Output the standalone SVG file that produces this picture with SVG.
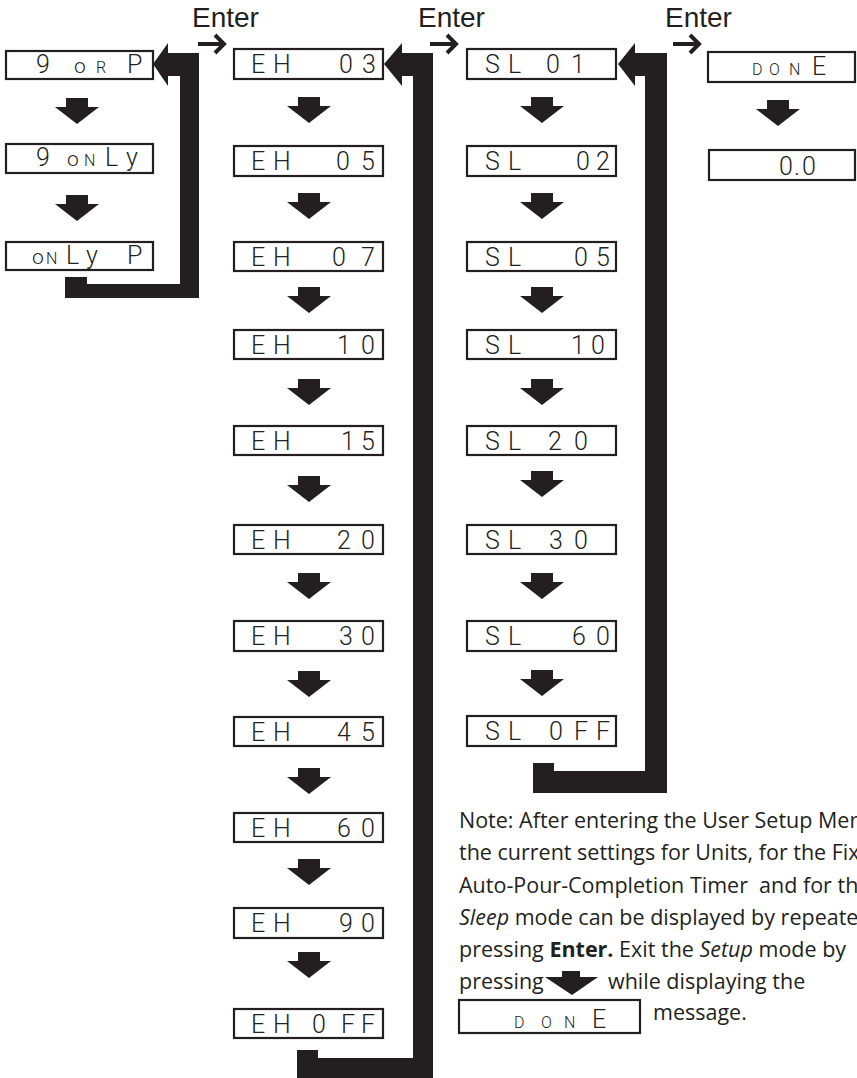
<svg xmlns="http://www.w3.org/2000/svg" xmlns:xlink="http://www.w3.org/1999/xlink" width="857" height="1078" viewBox="0 0 857 1078">
<style>
.box{fill:#fff;stroke:#231f20;stroke-width:2.2}
.lcd{font-family:"Roboto","Liberation Sans",sans-serif;font-weight:300;font-size:25px;fill:#231f20}
.s{font-size:16px}
.o{font-size:21px}
.lbl{font-family:"Liberation Sans",Arial,sans-serif;font-size:28px;fill:#231f20}
.note{font-family:"Open Sans","Noto Sans",sans-serif;font-size:21.5px;fill:#231f20}
.con{fill:#231f20}
.ent{fill:none;stroke:#231f20;stroke-width:4;stroke-linejoin:miter}
</style>
<defs>
<path id="dn" d="M-11,0 H11 V9 H22 L0,26 L-22,9 H-11 Z" fill="#231f20"/>
</defs>
<rect width="857" height="1078" fill="#fff"/>

<g id="labels">
<text class="lbl" x="192" y="27">Enter</text>
<text class="lbl" x="418" y="27">Enter</text>
<text class="lbl" x="665" y="27">Enter</text>
<path class="ent" d="M198,44 H224 M215,35 L224,44 L215,53"/>
<path class="ent" d="M430,44 H456 M447,35 L456,44 L447,53"/>
<path class="ent" d="M673,44 H699 M690,35 L699,44 L690,53"/>
</g>

<g id="connectors">
<path class="con" d="M153,64 L168,43 L168,53 L199,53 L199,298 L65,298 L65,277 L87,277 L87,284 L180,284 L180,76 L168,76 L168,86 Z"/>
<path class="con" d="M384,64 L402,43 L402,53 L433,53 L433,1078 L297,1078 L297,1050 L318,1050 L318,1058 L413,1058 L413,76 L402,76 L402,86 Z"/>
<path class="con" d="M618,64 L635,43 L635,53 L667,53 L667,793 L533,793 L533,763 L554,763 L554,771 L645,771 L645,76 L635,76 L635,86 Z"/>
<use xlink:href="#dn" x="77" y="98"/>
<use xlink:href="#dn" x="77" y="195"/>
<use xlink:href="#dn" x="309" y="97"/>
<use xlink:href="#dn" x="309" y="193"/>
<use xlink:href="#dn" x="309" y="287"/>
<use xlink:href="#dn" x="309" y="379"/>
<use xlink:href="#dn" x="309" y="476"/>
<use xlink:href="#dn" x="309" y="573"/>
<use xlink:href="#dn" x="309" y="671"/>
<use xlink:href="#dn" x="309" y="768"/>
<use xlink:href="#dn" x="309" y="859"/>
<use xlink:href="#dn" x="309" y="952"/>
<use xlink:href="#dn" x="542" y="97"/>
<use xlink:href="#dn" x="542" y="193"/>
<use xlink:href="#dn" x="542" y="287"/>
<use xlink:href="#dn" x="542" y="379"/>
<use xlink:href="#dn" x="542" y="471"/>
<use xlink:href="#dn" x="542" y="573"/>
<use xlink:href="#dn" x="542" y="670"/>
<use xlink:href="#dn" x="778" y="100"/>
</g>

<g id="col1-gorp"><rect class="box" x="6" y="51" width="147" height="28"/><text class="lcd" x="36" y="73">9 <tspan class="o" x="74">o</tspan><tspan class="s" x="96">R</tspan> <tspan x="127">P</tspan></text></g>
<g id="col1-gonly"><rect class="box" x="6" y="144" width="147" height="29"/><text class="lcd" x="36" y="166">9 <tspan class="o" x="67">o</tspan><tspan class="s" x="84">N</tspan><tspan x="105 126">Ly</tspan></text></g>
<g id="col1-onlyp"><rect class="box" x="6" y="242" width="147" height="28"/><text class="lcd" y="264"><tspan class="o" x="32">o</tspan><tspan class="s" x="46">N</tspan><tspan x="66 86">Ly</tspan> <tspan x="127">P</tspan></text></g>

<g id="eh03"><rect class="box" x="234" y="49" width="149" height="30"/><text class="lcd" x="251 273" y="73">EH <tspan x="339 362">03</tspan></text></g>
<g id="eh05"><rect class="box" x="234" y="146" width="149" height="30"/><text class="lcd" x="251 273" y="170">EH <tspan x="336 361">05</tspan></text></g>
<g id="eh07"><rect class="box" x="234" y="242" width="149" height="29"/><text class="lcd" x="251 273" y="266">EH <tspan x="332 361">07</tspan></text></g>
<g id="eh10"><rect class="box" x="234" y="330" width="149" height="29"/><text class="lcd" x="251 273" y="354">EH <tspan x="337 361">10</tspan></text></g>
<g id="eh15"><rect class="box" x="234" y="426" width="149" height="29"/><text class="lcd" x="251 273" y="450">EH <tspan x="341 361">15</tspan></text></g>
<g id="eh20"><rect class="box" x="234" y="525" width="149" height="29"/><text class="lcd" x="251 273" y="549">EH <tspan x="337 361">20</tspan></text></g>
<g id="eh30"><rect class="box" x="234" y="621" width="149" height="30"/><text class="lcd" x="251 273" y="645">EH <tspan x="339 361">30</tspan></text></g>
<g id="eh45"><rect class="box" x="234" y="717" width="149" height="29"/><text class="lcd" x="251 273" y="741">EH <tspan x="337 361">45</tspan></text></g>
<g id="eh60"><rect class="box" x="234" y="813" width="149" height="29"/><text class="lcd" x="251 273" y="837">EH <tspan x="337 361">60</tspan></text></g>
<g id="eh90"><rect class="box" x="234" y="908" width="149" height="30"/><text class="lcd" x="251 273" y="932">EH <tspan x="339 361">90</tspan></text></g>
<g id="ehoff"><rect class="box" x="234" y="1009" width="149" height="29"/><text class="lcd" x="251 273" y="1033">EH <tspan x="312 341 361">0FF</tspan></text></g>

<g id="sl01"><rect class="box" x="467" y="49" width="149" height="30"/><text class="lcd" x="485 508" y="73">SL <tspan x="546 571">01</tspan></text></g>
<g id="sl02"><rect class="box" x="467" y="146" width="149" height="30"/><text class="lcd" x="485 508" y="170">SL <tspan x="576 596">02</tspan></text></g>
<g id="sl05"><rect class="box" x="467" y="242" width="149" height="29"/><text class="lcd" x="485 508" y="266">SL <tspan x="574 596">05</tspan></text></g>
<g id="sl10"><rect class="box" x="467" y="330" width="149" height="29"/><text class="lcd" x="485 508" y="354">SL <tspan x="571 591">10</tspan></text></g>
<g id="sl20"><rect class="box" x="467" y="426" width="149" height="29"/><text class="lcd" x="485 508" y="450">SL <tspan x="548 574">20</tspan></text></g>
<g id="sl30"><rect class="box" x="467" y="525" width="149" height="29"/><text class="lcd" x="485 508" y="549">SL <tspan x="549 574">30</tspan></text></g>
<g id="sl60"><rect class="box" x="467" y="621" width="149" height="30"/><text class="lcd" x="485 508" y="645">SL <tspan x="572 596">60</tspan></text></g>
<g id="sloff"><rect class="box" x="467" y="716" width="149" height="30"/><text class="lcd" x="485 508" y="740">SL <tspan x="549 574 596">0FF</tspan></text></g>

<g id="done"><rect class="box" x="708" y="52" width="147" height="30"/><text class="lcd" y="75"><tspan class="s" x="752 769 789">DON</tspan><tspan x="812">E</tspan></text></g>
<g id="zero"><rect class="box" x="709" y="150" width="146" height="30"/><text class="lcd" x="779 794 802" y="175">0.0</text></g>

<g id="note">
<text class="note" x="459" y="828">Note: After entering the User Setup Menu,</text>
<text class="note" x="459" y="860">the current settings for Units, for the Fixed</text>
<text class="note" x="459" y="893" xml:space="preserve">Auto-Pour-Completion Timer  and for the</text>
<text class="note" x="459" y="925"><tspan font-style="italic">Sleep</tspan> mode can be displayed by repeatedly</text>
<text class="note" x="459" y="957">pressing <tspan font-weight="bold">Enter.</tspan> Exit the <tspan font-style="italic">Setup</tspan> mode by</text>
<text class="note" x="459" y="989">pressing</text>
<path d="M562,971 H580 V977 H598 L572,995 L545,977 H562 Z" fill="#231f20"/>
<text class="note" x="608" y="989">while displaying the</text>
<rect class="box" x="459" y="1000" width="181" height="33"/>
<text class="lcd" y="1028"><tspan class="s" x="514 541 564">DON</tspan><tspan x="592">E</tspan></text>
<text class="note" x="653" y="1020">message.</text>
</g>
</svg>
